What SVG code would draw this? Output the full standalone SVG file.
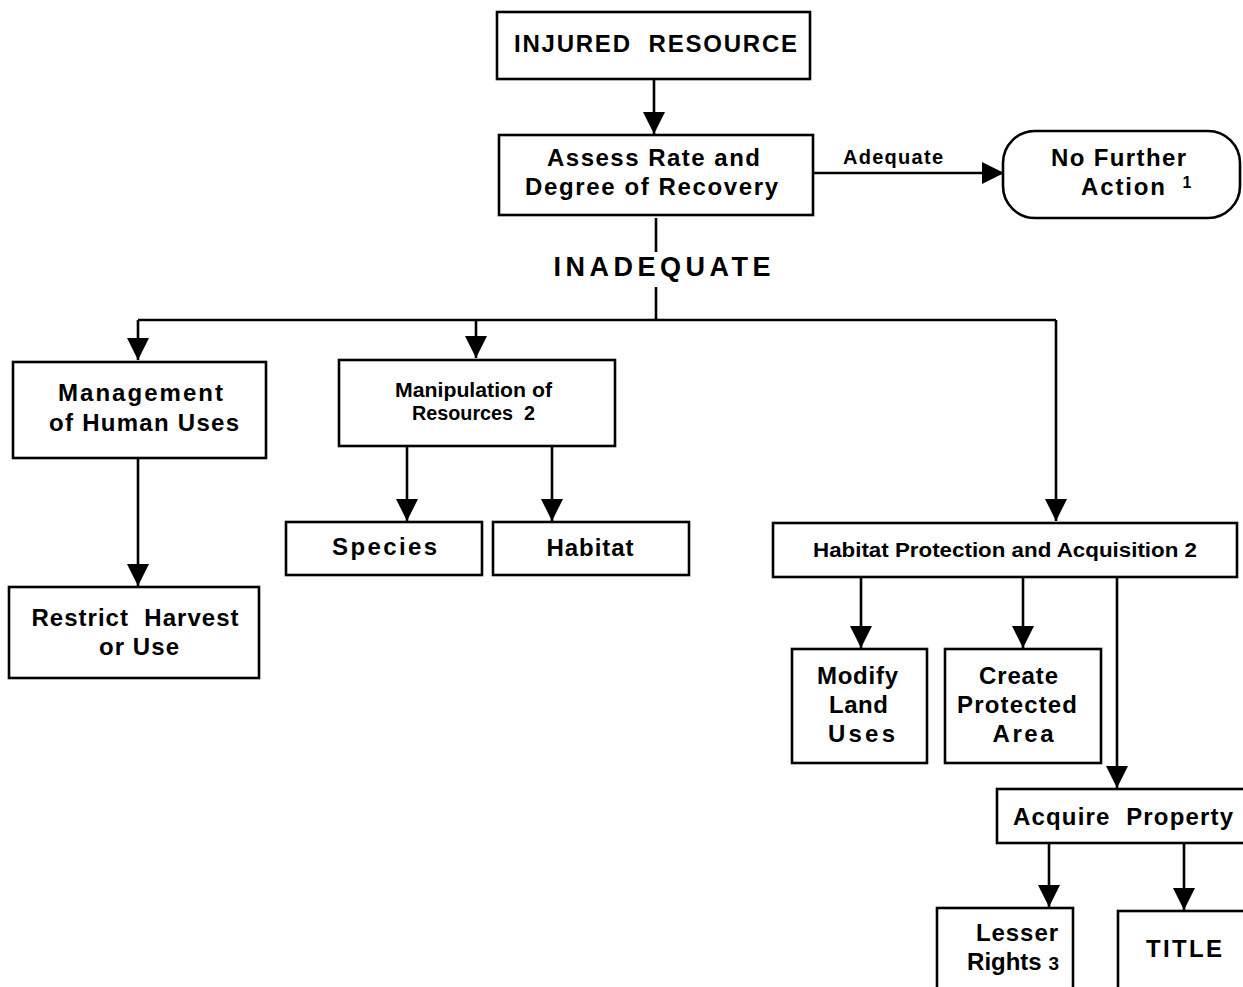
<svg xmlns="http://www.w3.org/2000/svg" width="1243" height="987" viewBox="0 0 1243 987">
<style>
.box{fill:#fff;stroke:#000;stroke-width:2.6}
.ln{fill:none;stroke:#000;stroke-width:2.6}
text{font-family:"Liberation Sans",Arial,sans-serif;font-weight:bold;fill:#000;text-anchor:middle;white-space:pre}
.t22{font-size:24px}
.t18{font-size:20px}
</style>
<defs>
<marker id="ah" markerUnits="userSpaceOnUse" markerWidth="22" markerHeight="24" viewBox="0 0 22 24" refX="22" refY="11" orient="auto">
<path d="M0,0 L22,11 L0,22 Z" fill="#000"/>
</marker>
</defs>
<rect width="1243" height="987" fill="#fff"/>
<g id="connectors">
<line class="ln" x1="654" y1="79" x2="654" y2="134" marker-end="url(#ah)"/>
<line class="ln" x1="813" y1="173" x2="1004" y2="173" marker-end="url(#ah)"/>
<line class="ln" x1="656" y1="218" x2="656" y2="252"/>
<line class="ln" x1="656" y1="287" x2="656" y2="320"/>
<polyline class="ln" points="138,320 1056,320"/>
<line class="ln" x1="138" y1="320" x2="138" y2="360" marker-end="url(#ah)"/>
<line class="ln" x1="476" y1="320" x2="476" y2="358" marker-end="url(#ah)"/>
<line class="ln" x1="1056" y1="320" x2="1056" y2="521" marker-end="url(#ah)"/>
<line class="ln" x1="138" y1="458" x2="138" y2="586" marker-end="url(#ah)"/>
<line class="ln" x1="407" y1="446" x2="407" y2="521" marker-end="url(#ah)"/>
<line class="ln" x1="552" y1="446" x2="552" y2="521" marker-end="url(#ah)"/>
<line class="ln" x1="861" y1="577" x2="861" y2="648" marker-end="url(#ah)"/>
<line class="ln" x1="1023" y1="577" x2="1023" y2="648" marker-end="url(#ah)"/>
<line class="ln" x1="1117" y1="577" x2="1117" y2="788" marker-end="url(#ah)"/>
<line class="ln" x1="1049" y1="843" x2="1049" y2="907" marker-end="url(#ah)"/>
<line class="ln" x1="1184" y1="843" x2="1184" y2="910" marker-end="url(#ah)"/>
<text class="t18" x="893" y="164" textLength="100" lengthAdjust="spacing">Adequate</text>
<text x="662" y="276" style="font-size:27px" textLength="217" lengthAdjust="spacing">INADEQUATE</text>
</g>
<g id="injured">
<rect class="box" x="497" y="12" width="313" height="67"/>
<text class="t22" x="655.5" y="52" textLength="283" lengthAdjust="spacing">INJURED  RESOURCE</text>
</g>
<g id="assess">
<rect class="box" x="499" y="135" width="314" height="80"/>
<text class="t22" x="653.5" y="166" textLength="213" lengthAdjust="spacing">Assess Rate and</text>
<text class="t22" x="651.5" y="195" textLength="253" lengthAdjust="spacing">Degree of Recovery</text>
</g>
<g id="nofurther">
<rect class="box" x="1003" y="131" width="237" height="87" rx="32" ry="32"/>
<text class="t22" x="1118.5" y="166" textLength="135" lengthAdjust="spacing">No Further</text>
<text class="t22" x="1123" y="195" textLength="84" lengthAdjust="spacing">Action</text>
<text x="1187" y="188" style="font-size:16px">1</text>
</g>
<g id="management">
<rect class="box" x="13" y="362" width="253" height="96"/>
<text class="t22" x="140.5" y="401" textLength="165" lengthAdjust="spacing">Management</text>
<text class="t22" x="144" y="431" textLength="190" lengthAdjust="spacing">of Human Uses</text>
</g>
<g id="manipulation">
<rect class="box" x="339" y="360" width="276" height="86"/>
<text x="473.5" y="397" style="font-size:21px" textLength="157" lengthAdjust="spacingAndGlyphs">Manipulation of</text>
<text x="473.5" y="420" style="font-size:21px" textLength="123" lengthAdjust="spacingAndGlyphs">Resources  2</text>
</g>
<g id="restrict">
<rect class="box" x="9" y="587" width="250" height="91"/>
<text class="t22" x="135" y="626" textLength="207" lengthAdjust="spacing">Restrict  Harvest</text>
<text class="t22" x="139" y="655" textLength="80" lengthAdjust="spacing">or Use</text>
</g>
<g id="species">
<rect class="box" x="286" y="522" width="196" height="53"/>
<text class="t22" x="384.5" y="555" textLength="105" lengthAdjust="spacing">Species</text>
</g>
<g id="habitat">
<rect class="box" x="493" y="522" width="196" height="53"/>
<text class="t22" x="590" y="556" textLength="87" lengthAdjust="spacing">Habitat</text>
</g>
<g id="habitatprotection">
<rect class="box" x="773" y="523" width="464" height="54"/>
<text class="t18" x="1005" y="557" textLength="384" lengthAdjust="spacingAndGlyphs">Habitat Protection and Acquisition 2</text>
</g>
<g id="modify">
<rect class="box" x="792" y="649" width="135" height="114"/>
<text class="t22" x="857.5" y="684" textLength="81" lengthAdjust="spacing">Modify</text>
<text class="t22" x="858.5" y="713" textLength="59" lengthAdjust="spacing">Land</text>
<text class="t22" x="861.5" y="742" textLength="67" lengthAdjust="spacing">Uses</text>
</g>
<g id="create">
<rect class="box" x="945" y="649" width="156" height="114"/>
<text class="t22" x="1018.5" y="684" textLength="79" lengthAdjust="spacing">Create</text>
<text class="t22" x="1017" y="713" textLength="120" lengthAdjust="spacing">Protected</text>
<text class="t22" x="1023" y="742" textLength="61" lengthAdjust="spacing">Area</text>
</g>
<g id="acquire">
<rect class="box" x="997" y="789" width="256" height="54"/>
<text class="t22" x="1123" y="825" textLength="220" lengthAdjust="spacing">Acquire  Property</text>
</g>
<g id="lesser">
<rect class="box" x="937" y="908" width="136" height="90"/>
<text class="t22" x="1017" y="941" textLength="82" lengthAdjust="spacing">Lesser</text>
<text class="t22" x="1013" y="970">Rights <tspan style="font-size:19px">3</tspan></text>
</g>
<g id="title">
<rect class="box" x="1118" y="911" width="135" height="90"/>
<text class="t22" x="1184" y="957" textLength="76" lengthAdjust="spacing">TITLE</text>
</g>
</svg>
